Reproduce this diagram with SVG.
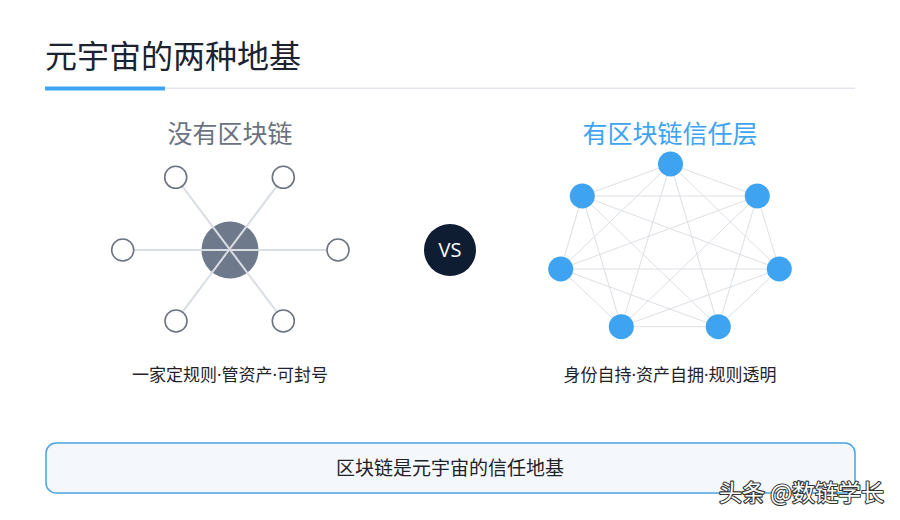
<svg xmlns="http://www.w3.org/2000/svg" width="900" height="520" viewBox="0 0 900 520">
<style>
.cjk{font-family:"Noto Sans CJK SC","Noto Sans",sans-serif}
.dot{font-family:"Noto Sans",sans-serif}
.spoke{stroke:#d9dde4;stroke-width:2}
.mesh{stroke:#dcdfe4;stroke-width:1}
.outer{fill:#fff;stroke:#6b7383;stroke-width:1.6}
.bnode{fill:#3ea4f1}
</style>
<rect width="900" height="520" fill="#fff"/>
<g id="title">
<text class="cjk" x="45" y="68" font-size="32" fill="#1b2230">元宇宙的两种地基</text>
<rect x="165" y="87.5" width="690" height="1.5" fill="#e1e5ec"/>
<rect x="45" y="86.5" width="120" height="4" fill="#3ea4f1"/>
</g>
<text class="cjk" x="230" y="143" font-size="25" fill="#6b7280" text-anchor="middle">没有区块链</text>
<text class="cjk" x="670" y="143" font-size="25" fill="#3ea4f1" text-anchor="middle">有区块链信任层</text>
<g id="hub"><circle cx="230" cy="250" r="28.5" fill="#6e7a8b"/></g>
<g id="connectors">
<line class="spoke" x1="175.7" y1="177.3" x2="283.3" y2="320.7"/>
<line class="spoke" x1="283.3" y1="177.3" x2="176" y2="320.7"/>
<line class="spoke" x1="122.7" y1="250" x2="338" y2="250"/>
<g class="mesh">
<line x1="670.5" y1="164" x2="582.3" y2="196"/>
<line x1="670.5" y1="164" x2="757.3" y2="196"/>
<line x1="670.5" y1="164" x2="560.7" y2="269"/>
<line x1="670.5" y1="164" x2="779.3" y2="269"/>
<line x1="670.5" y1="164" x2="621.3" y2="326.7"/>
<line x1="670.5" y1="164" x2="718.3" y2="326.7"/>
<line x1="582.3" y1="196" x2="757.3" y2="196"/>
<line x1="582.3" y1="196" x2="560.7" y2="269"/>
<line x1="582.3" y1="196" x2="779.3" y2="269"/>
<line x1="582.3" y1="196" x2="621.3" y2="326.7"/>
<line x1="582.3" y1="196" x2="718.3" y2="326.7"/>
<line x1="757.3" y1="196" x2="560.7" y2="269"/>
<line x1="757.3" y1="196" x2="779.3" y2="269"/>
<line x1="757.3" y1="196" x2="621.3" y2="326.7"/>
<line x1="757.3" y1="196" x2="718.3" y2="326.7"/>
<line x1="560.7" y1="269" x2="779.3" y2="269"/>
<line x1="560.7" y1="269" x2="621.3" y2="326.7"/>
<line x1="560.7" y1="269" x2="718.3" y2="326.7"/>
<line x1="779.3" y1="269" x2="621.3" y2="326.7"/>
<line x1="779.3" y1="269" x2="718.3" y2="326.7"/>
<line x1="621.3" y1="326.7" x2="718.3" y2="326.7"/>
</g>
</g>
<g id="left-nodes">
<g id="l1"><circle class="outer" cx="175.7" cy="177.3" r="11"/></g>
<g id="l2"><circle class="outer" cx="283.3" cy="177.3" r="11"/></g>
<g id="l3"><circle class="outer" cx="122.7" cy="250" r="11"/></g>
<g id="l4"><circle class="outer" cx="338" cy="250" r="11"/></g>
<g id="l5"><circle class="outer" cx="176" cy="321" r="11"/></g>
<g id="l6"><circle class="outer" cx="283.3" cy="321" r="11"/></g>
</g>
<g id="right-nodes">
<g id="r1"><circle class="bnode" cx="670.5" cy="164" r="12.5"/></g>
<g id="r2"><circle class="bnode" cx="582.3" cy="196" r="12.5"/></g>
<g id="r3"><circle class="bnode" cx="757.3" cy="196" r="12.5"/></g>
<g id="r4"><circle class="bnode" cx="560.7" cy="269" r="12.5"/></g>
<g id="r5"><circle class="bnode" cx="779.3" cy="269" r="12.5"/></g>
<g id="r6"><circle class="bnode" cx="621.3" cy="326.7" r="12.5"/></g>
<g id="r7"><circle class="bnode" cx="718.3" cy="326.7" r="12.5"/></g>
</g>
<g id="vs">
<circle cx="450" cy="250" r="26" fill="#0f1d33"/>
<text x="450" y="257" font-family="'Open Sans','Noto Sans',sans-serif" font-size="20" fill="#fff" text-anchor="middle">VS</text>
</g>
<text class="cjk" x="230" y="381" font-size="17" fill="#1f2329" text-anchor="middle">一家定规则<tspan class="dot">·</tspan>管资产<tspan class="dot">·</tspan>可封号</text>
<text class="cjk" x="670" y="381" font-size="17" fill="#1f2329" text-anchor="middle">身份自持<tspan class="dot">·</tspan>资产自拥<tspan class="dot">·</tspan>规则透明</text>
<g id="summary">
<rect x="46" y="443" width="809" height="50" rx="10" fill="#f4f8fc" stroke="#4aa3e0" stroke-width="1.5"/>
<text class="cjk" x="450" y="475" font-size="19" fill="#1f2329" text-anchor="middle">区块链是元宇宙的信任地基</text>
</g>
<text class="cjk" x="719" y="501" font-size="23" fill="#fff" stroke="#333" stroke-width="2.2" paint-order="stroke" stroke-linejoin="round">头条 @数链学长</text>
</svg>
